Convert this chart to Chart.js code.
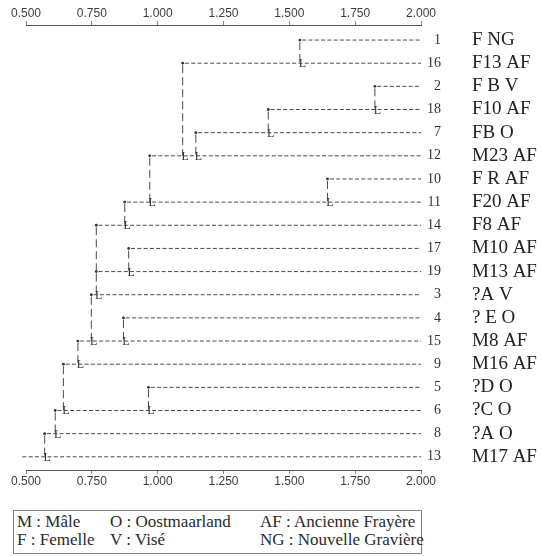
<!DOCTYPE html>
<html>
<head>
<meta charset="utf-8">
<script src="https://cdn.jsdelivr.net/npm/chart.js@4/dist/chart.umd.min.js"></script>
<style>
  html, body { margin: 0; padding: 0; background: #fff; }
  #wrap { position: relative; width: 542px; height: 556px; overflow: hidden; }
  #tree { position: absolute; left: 0; top: 0; }
  .key {
    position: absolute; left: 13px; top: 510px; width: 407px; height: 42px;
    border: 1px solid #858585; box-sizing: content-box;
    font-family: "Liberation Serif", "Times New Roman", serif; font-size: 17px; color: #2a2a2a;
  }
  .key span { position: absolute; white-space: nowrap; line-height: 18px; }
</style>
</head>
<body>
<div id="wrap">
  <canvas id="tree" width="542" height="500"></canvas>
  <div class="key" id="key"></div>
</div>
<script>
// Leaves, top to bottom
const leafIds   = ['1', '16', '2', '18', '7', '12', '10', '11', '14', '17', '19', '3', '4', '15', '9', '5', '6', '8', '13'];
const leafNames = ['F NG', 'F13 AF', 'F B V', 'F10 AF', 'FB O', 'M23 AF', 'F R AF', 'F20 AF', 'F8 AF',
                   'M10 AF', 'M13 AF', '?A V', '? E O', 'M8 AF', 'M16 AF', '?D O', '?C O', '?A O', 'M17 AF'];

// Level at which the cluster ending on each row joins the cluster below it,
// and the row index where that join is drawn (null for the root row).
const joinLevel = [1.54, 1.095, 1.825, 1.42, 1.145, 0.97, 1.645, 0.875, 0.767, 0.89,
                   0.767, 0.748, 0.87, 0.697, 0.642, 0.965, 0.611, 0.571, 0.486];
const joinRow   = [1, 5, 3, 4, 5, 7, 7, 8, 10, 10, 11, 13, 13, 14, 16, 16, 17, 18, null];

// Level of the leaves themselves
const leafLevel = 2.0;

// Similarity axis ticks
const tickValues = [0.5, 0.75, 1.0, 1.25, 1.5, 1.75, 2.0];

// Key of abbreviations
const keyCodes = ['M', 'F', 'O', 'V', 'AF', 'NG'];
const keyWords = ['Mâle', 'Femelle', 'Oostmaarland', 'Visé', 'Ancienne Frayère', 'Nouvelle Gravière'];

const LINE = '#4a4a4a';
const SERIF = '"Liberation Serif", "Times New Roman", serif';
const SANS = '"Liberation Sans", Arial, sans-serif';

const datasets = [];
leafIds.forEach((id, i) => {
  // horizontal branch from its join level out to the leaf
  datasets.push({
    data: [{ x: joinLevel[i], y: i }, { x: leafLevel, y: i }],
    borderColor: LINE, borderWidth: 1, borderDash: [4, 2.3], borderDashOffset: joinRow[i] === null ? 0 : 4,
    pointRadius: joinRow[i] === null ? [0, 0] : [1.4, 0],
    pointBackgroundColor: '#333', pointBorderWidth: 0,
    clip: false
  });
  // vertical link down to the row of the joined cluster
  if (joinRow[i] !== null) {
    datasets.push({
      data: [{ x: joinLevel[i], y: i }, { x: joinLevel[i], y: joinRow[i] }],
      borderColor: LINE, borderWidth: 1, borderDash: [8, 4], borderDashOffset: 10,
      pointRadius: 0, clip: false
    });
  }
});

// "L" corner glyphs where a link reaches the row below
const junctionMarks = {
  id: 'junctionMarks',
  afterDatasetsDraw(chart) {
    const { ctx, scales } = chart;
    ctx.save();
    ctx.font = '12px ' + SERIF;
    ctx.fillStyle = '#333';
    ctx.textAlign = 'left';
    ctx.textBaseline = 'alphabetic';
    joinRow.forEach((r, i) => {
      if (r === null || joinLevel[r] === joinLevel[i]) return;
      const px = scales.x.getPixelForValue(joinLevel[i]);
      const py = scales.y.getPixelForValue(r);
      ctx.fillText('L', px - 1.2, py + 4);
    });
    ctx.restore();
  }
};

const xAxis = (position, height) => ({
  type: 'linear', axis: 'x', position, min: 0.5, max: 2.0,
  afterBuildTicks: s => { s.ticks = tickValues.map(v => ({ value: v })); },
  ticks: {
    callback: v => Number(v).toFixed(3),
    font: { family: SANS, size: 12 }, color: '#3c3c3c',
    padding: 0, maxRotation: 0, autoSkip: false
  },
  grid: { display: true, drawOnChartArea: false, drawTicks: true, tickLength: 4, tickColor: '#8a8a8a', tickWidth: 1 },
  border: { display: true, dash: [4, 2.3], color: '#555', width: 1 },
  afterFit: s => { s.height = height; }
});

const yRange = { min: -0.65, max: 18.57 };

// right-hand label columns: fixed width, no extra vertical padding
const fixColumn = width => s => { s.width = width; s.paddingTop = 0; s.paddingBottom = 0; };

new Chart(document.getElementById('tree'), {
  type: 'scatter',
  data: { datasets },
  options: {
    responsive: false, animation: false, devicePixelRatio: 1,
    showLine: true,
    layout: { padding: { left: 26, right: 0, top: 0, bottom: 0 } },
    plugins: { legend: { display: false }, tooltip: { enabled: false } },
    elements: { line: { tension: 0 } },
    scales: {
      x: xAxis('top', 25),
      x2: xAxis('bottom', 30),
      // leaf numbers, right-aligned next to the branch ends
      y: {
        type: 'linear', position: 'right', reverse: true, weight: 0, ...yRange,
        afterBuildTicks: s => { s.ticks = leafIds.map((_, i) => ({ value: i })); },
        ticks: {
          callback: v => leafIds[v], font: { family: SERIF, size: 14 }, color: '#333',
          padding: 0, crossAlign: 'far', autoSkip: false
        },
        grid: { display: false, drawTicks: false }, border: { display: false },
        afterFit: fixColumn(20)
      },
      // specimen names
      yName: {
        type: 'linear', axis: 'y', position: 'right', reverse: true, weight: 1, ...yRange,
        afterBuildTicks: s => { s.ticks = leafNames.map((_, i) => ({ value: i })); },
        ticks: {
          callback: v => leafNames[v], font: { family: SERIF, size: 19 }, color: '#222',
          padding: 31, crossAlign: 'near', autoSkip: false
        },
        grid: { display: false, drawTicks: false }, border: { display: false },
        afterFit: fixColumn(101)
      }
    }
  },
  plugins: [junctionMarks]
});

// abbreviation key below the tree
const colLeft = [3, 96, 246];
const rowTop = [2, 20];
const key = document.getElementById('key');
keyCodes.forEach((code, k) => {
  const span = document.createElement('span');
  span.textContent = code + ' : ' + keyWords[k];
  span.style.left = colLeft[Math.floor(k / 2)] + 'px';
  span.style.top = rowTop[k % 2] + 'px';
  key.appendChild(span);
});
</script>
</body>
</html>
